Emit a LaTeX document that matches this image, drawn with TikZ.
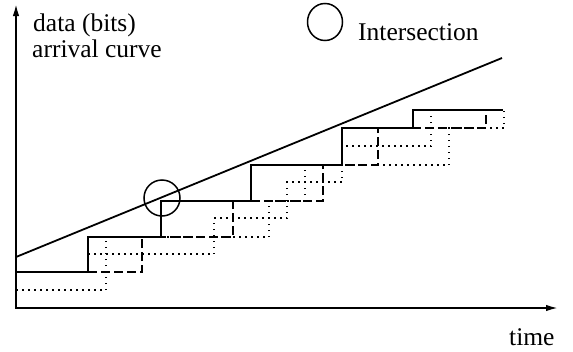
\documentclass[tikz,border=0pt]{standalone}
\usepackage{fontspec}
\setmainfont{Liberation Serif}
\usetikzlibrary{arrows.meta}
\begin{document}
\begin{tikzpicture}[x=1pt,y=-1pt,
  axis/.style={line width=1.8pt, {Latex[length=12pt,width=6.5pt]}-{Latex[length=12pt,width=6.5pt]}},
  solidc/.style={line width=1.9pt, line join=miter},
  dashc/.style={line width=1.9pt, dash pattern=on 9pt off 4pt},
  dotc/.style={line width=1.5pt, dash pattern=on 1.5pt off 4.5pt},
  lbl/.style={font=\fontsize{25.5}{30}\selectfont, inner sep=0pt}]
\useasboundingbox (0,0) rectangle (573,351);
% axes
\draw[axis] (16,4) -- (16,308) -- (558,308);
% arrival curve line
\draw[line width=1.8pt] (16,257) -- (502,58);
% dotted curve 1
\draw[dotc] (16,290) -- (106,290) -- (106,237) -- (269,237) -- (269,201) -- (305,201) -- (305,165) -- (449,165) -- (449,128) -- (504,128) -- (504,110);
% dotted curve 2
\draw[dotc] (88,254) -- (214,254) -- (214,218) -- (287,218) -- (287,182) -- (342,182) -- (342,146) -- (431,146) -- (431,110);
% dashed curve
\draw[dashc] (88,272) -- (142,272) -- (142,237) -- (233,237) -- (233,201) -- (323,201) -- (323,165) -- (378,165) -- (378,128) -- (486,128) -- (486,110);
% solid curve
\draw[solidc] (16,272) -- (88,272) -- (88,237) -- (161,237) -- (161,201) -- (251,201) -- (251,165) -- (342,165) -- (342,128) -- (413,128) -- (413,110) -- (503,110);
% intersection circle
\draw[line width=1.5pt] (162,198) circle[radius=18];
% legend
\draw[line width=1.5pt] (325,22) circle[x radius=17.5, y radius=18.5];
\node[lbl, anchor=base west] (leg) at (358,40) {Intersection};
\node[lbl, anchor=base west] (ylab1) at (33,31) {data (bits)};
\node[lbl, anchor=base west] (ylab2) at (32,57) {arrival curve};
\node[lbl, anchor=base west] (xlab) at (509,345) {time};
\end{tikzpicture}
\end{document}
